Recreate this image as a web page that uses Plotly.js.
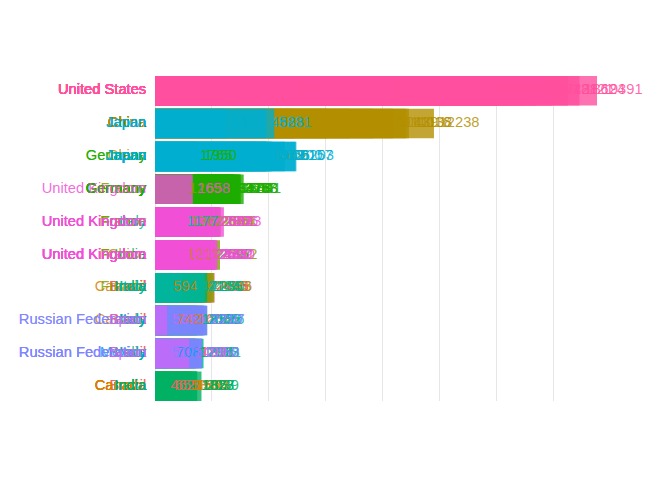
<!DOCTYPE html>
<html><head><meta charset="utf-8">
<script src="https://cdn.plot.ly/plotly-3.0.1.min.js"></script>
<style>html,body{margin:0;padding:0;background:#fff}</style>
</head><body>
<div id="chart" style="width:672px;height:480px"></div>
<script>
// Years shown (all frames drawn on top of each other)
const years = [1990, 2000, 2009, 2010, 2011, 2012, 2013, 2014, 2015, 2016, 2017];
const countries = ["Brazil","Canada","China","France","Germany","India","Italy","Japan","Mexico","Russian Federation","Spain","United Kingdom","United States"];
const colors = ["#F5645A","#D97E00","#B38F00","#80A200","#1DAD00","#00B264","#00B59F","#00AED0","#009FF2","#7E85FF","#CB66F7","#F150D6","#FF4F9D"];
// GDP, billions of current US$; null = not in that year's top 10
const gdpBrazil  = [462, 655, 1667, 2209, 2616, 2465, 2473, 2456, 1802, 1796, 2055];
const gdpCanada  = [594, 742, 1371, 1614, null, null, null, null, 1560, 1536, 1653];
const gdpChina   = [null, 1211, 5102, 6087, 7552, 8532, 9570, 10439, 11016, 11138, 12238];
const gdpFrance  = [1269, 1362, 2690, 2643, 2861, 2684, 2811, 2852, 2438, 2465, 2583];
const gdpGermany = [1765, 1950, 3418, 3417, 3758, 3544, 3753, 3891, 3376, 3478, 3677];
const gdpIndia   = [null, null, null, 1708, 1823, 1828, 1857, 2039, 2104, 2290, 2597];
const gdpItaly   = [1177, 1144, 2185, 2125, 2276, 2073, 2131, 2152, 1832, 1859, 1935];
const gdpJapan   = [3133, 4888, 5231, 5700, 6157, 6203, 5156, 4850, 4395, 4949, 4872];
const gdpMexico  = [null, 708, null, null, null, null, null, null, null, null, null];
const gdpRussia  = [517, null, null, null, 2052, 2210, 2297, 2060, null, null, null];
const gdpSpain   = [535, null, 1499, null, null, null, null, null, null, null, null];
const gdpUK      = [1093, 1658, 2383, 2441, 2620, 2662, 2740, 3023, 2886, 2651, 2622];
const gdpUS      = [5980, 10285, 14419, 14964, 15518, 16155, 16692, 17428, 18121, 18624, 19391];

const series = [gdpBrazil, gdpCanada, gdpChina, gdpFrance, gdpGermany, gdpIndia, gdpItaly,
                gdpJapan, gdpMexico, gdpRussia, gdpSpain, gdpUK, gdpUS];

// rank of each country in each year
const ranks = series.map(() => years.map(() => null));
years.forEach((yr, j) => {
  const idx = series.map((s, i) => i).filter(i => series[i][j] !== null);
  idx.sort((a, b) => series[b][j] - series[a][j]);
  idx.forEach((i, r) => { ranks[i][j] = r + 1; });
});

function rgba(hex, a) {
  const n = parseInt(hex.slice(1), 16);
  return `rgba(${(n >> 16) & 255},${(n >> 8) & 255},${n & 255},${a})`;
}

const FONT = "Liberation Sans, Arial, sans-serif";
const NBSP = "\u00a0";
const bars = [], names = [], labels = [];
countries.forEach((c, i) => {
  const xs = [], ys = [], txt = [], zero = [], nm = [];
  years.forEach((yr, j) => {
    if (series[i][j] !== null) {
      xs.push(series[i][j]); ys.push(ranks[i][j]);
      txt.push(String(Math.round(series[i][j])));
      zero.push(0); nm.push(c + NBSP);
    }
  });
  bars.push({type: "bar", orientation: "h", x: xs, y: ys, width: 0.9,
    marker: {color: colors[i], opacity: 0.8, line: {width: 0}},
    hoverinfo: "none", showlegend: false});
  const textMarker = {size: 6, color: "rgba(0,0,0,0)"};
  names.push({type: "scatter", mode: "markers+text", x: zero, y: ys, text: nm,
    marker: textMarker, textposition: "middle left", cliponaxis: false,
    textfont: {family: FONT, size: 14.7, color: rgba(colors[i], 0.85)},
    hoverinfo: "none", showlegend: false});
  labels.push({type: "scatter", mode: "markers+text", x: xs, y: ys, text: txt,
    marker: textMarker, textposition: "middle right", cliponaxis: false,
    textfont: {family: FONT, size: 14.7, color: rgba(colors[i], 0.85)},
    hoverinfo: "none", showlegend: false});
});

const layout = {
  width: 672, height: 480,
  margin: {l: 155, r: 75, t: 76, b: 79, pad: 0},
  paper_bgcolor: "#FFFFFF", plot_bgcolor: "#FFFFFF",
  barmode: "overlay", showlegend: false,
  font: {family: FONT},
  xaxis: {range: [0, Math.max(...gdpUS)], dtick: 2500, tick0: 0,
    showticklabels: false, ticks: "", showgrid: true, gridcolor: "#E6E6E6", gridwidth: 1,
    zeroline: true, zerolinecolor: "#E6E6E6", zerolinewidth: 1, showline: false},
  yaxis: {range: [10.45, 0.55], showticklabels: false, ticks: "", showgrid: false,
    zeroline: false, showline: false}
};

Plotly.newPlot("chart", bars.concat(names, labels), layout, {displayModeBar: false, staticPlot: true});
</script>
</body></html>
